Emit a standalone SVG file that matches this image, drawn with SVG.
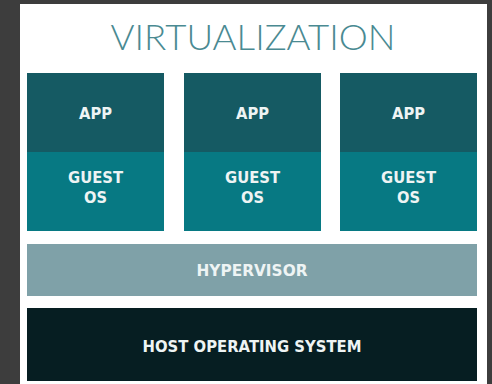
<svg xmlns="http://www.w3.org/2000/svg" width="492" height="384" viewBox="0 0 492 384">
<style>
.lbl{font-family:"DejaVu Sans","Liberation Sans",sans-serif;font-weight:700;font-size:15px;fill:#eef4f4;text-anchor:middle}
.title{font-family:Lato,"Open Sans",sans-serif;font-weight:300;font-size:35px;fill:#4a8a92;text-anchor:middle}
.app{fill:#155a63}
.guest{fill:#077983}
</style>
<rect x="0" y="0" width="492" height="384" fill="#3d3d3d"/>
<rect x="20" y="4" width="467" height="380" fill="#ffffff"/>
<text class="title" x="253" y="50" textLength="285" lengthAdjust="spacingAndGlyphs">VIRTUALIZATION</text>
<g id="vm1">
<rect class="app" x="27" y="73" width="137" height="79"/>
<rect class="guest" x="27" y="152" width="137" height="79"/>
<text class="lbl" x="95.5" y="119" textLength="33" lengthAdjust="spacingAndGlyphs">APP</text>
<text class="lbl" x="95.5" y="183" textLength="55" lengthAdjust="spacingAndGlyphs">GUEST</text>
<text class="lbl" x="95.5" y="203" textLength="23" lengthAdjust="spacingAndGlyphs">OS</text>
</g>
<g id="vm2">
<rect class="app" x="184" y="73" width="137" height="79"/>
<rect class="guest" x="184" y="152" width="137" height="79"/>
<text class="lbl" x="252.5" y="119" textLength="33" lengthAdjust="spacingAndGlyphs">APP</text>
<text class="lbl" x="252.5" y="183" textLength="55" lengthAdjust="spacingAndGlyphs">GUEST</text>
<text class="lbl" x="252.5" y="203" textLength="23" lengthAdjust="spacingAndGlyphs">OS</text>
</g>
<g id="vm3">
<rect class="app" x="340" y="73" width="137" height="79"/>
<rect class="guest" x="340" y="152" width="137" height="79"/>
<text class="lbl" x="408.5" y="119" textLength="33" lengthAdjust="spacingAndGlyphs">APP</text>
<text class="lbl" x="408.5" y="183" textLength="55" lengthAdjust="spacingAndGlyphs">GUEST</text>
<text class="lbl" x="408.5" y="203" textLength="23" lengthAdjust="spacingAndGlyphs">OS</text>
</g>
<g id="hypervisor">
<rect x="27" y="244" width="450" height="52" fill="#7fa1a8"/>
<text class="lbl" x="252" y="276" textLength="111" lengthAdjust="spacingAndGlyphs">HYPERVISOR</text>
</g>
<g id="host">
<rect x="27" y="308" width="450" height="73" fill="#061e22"/>
<text class="lbl" x="252" y="352" textLength="219" lengthAdjust="spacingAndGlyphs">HOST OPERATING SYSTEM</text>
</g>
<g id="connectors"/>
</svg>
